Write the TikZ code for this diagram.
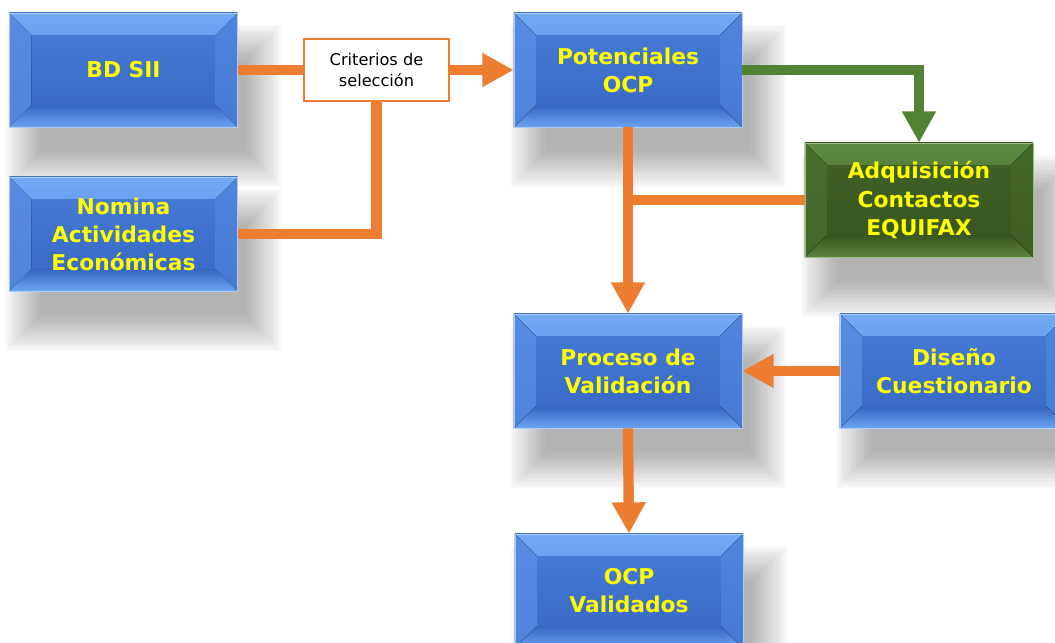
\documentclass[tikz,border=0pt]{standalone}
\usepackage{fontspec}
\setmainfont{DejaVu Sans}
\usepackage{xcolor}
\usepackage{tikz}
\usetikzlibrary{arrows.meta}
\definecolor{ylw}{HTML}{FFFF00}
\definecolor{orng}{HTML}{ED7D31}
\definecolor{grn}{HTML}{548235}
\definecolor{bluelt}{HTML}{72AAF6}
\definecolor{bluemd}{HTML}{4A7ED8}
\definecolor{bluedk}{HTML}{3466C2}
\definecolor{greenlt}{HTML}{5E8A40}
\definecolor{greenmd}{HTML}{3F6126}
\definecolor{greendk}{HTML}{38561F}
\pgfdeclarelayer{bg}
\pgfsetlayers{bg,main}
\tikzset{
  bevel/.style n args={3}{
    top color=#2, bottom color=#3, draw=#1!60!white, line width=0.6pt,
    path picture={
      \fill[top color=#1, bottom color=#2]
        (path picture bounding box.north west) -- (path picture bounding box.north east)
        -- ([shift={(-0.55cm,-0.55cm)}]path picture bounding box.north east)
        -- ([shift={(0.55cm,-0.55cm)}]path picture bounding box.north west) -- cycle;
      \fill[top color=#3, bottom color=#1!85!#2]
        (path picture bounding box.south west) -- (path picture bounding box.south east)
        -- ([shift={(-0.55cm,0.55cm)}]path picture bounding box.south east)
        -- ([shift={(0.55cm,0.55cm)}]path picture bounding box.south west) -- cycle;
      \fill[top color=#2!70!#1, bottom color=#2!85!#1]
        (path picture bounding box.north west) -- ([shift={(0.55cm,-0.55cm)}]path picture bounding box.north west)
        -- ([shift={(0.55cm,0.55cm)}]path picture bounding box.south west) -- (path picture bounding box.south west) -- cycle;
      \fill[top color=#2!85!#1, bottom color=#2!80!#3]
        (path picture bounding box.north east) -- ([shift={(-0.55cm,-0.55cm)}]path picture bounding box.north east)
        -- ([shift={(-0.55cm,0.55cm)}]path picture bounding box.south east) -- (path picture bounding box.south east) -- cycle;
    }
  },
  box/.style={minimum width=5.7cm, minimum height=2.85cm, inner sep=0pt, align=center,
    text=ylw, font=\bfseries\fontsize{15.5}{20}\selectfont},
  bluebox/.style={box, bevel={bluelt}{bluemd}{bluedk}},
  greenbox/.style={box, bevel={greenlt}{greenmd}{greendk}},
  crit/.style={draw=orng, line width=2pt, fill=white, minimum width=3.625cm,
    minimum height=1.55cm, align=center, font=\fontsize{11.5}{14.5}\selectfont},
  conn/.style={draw=orng, line width=0.26cm},
  gconn/.style={draw=grn, line width=0.27cm},
  arr/.style={-{Triangle[width=0.8cm,length=0.78cm]}}
}
\begin{document}
\begin{tikzpicture}[x=0.025cm,y=-0.025cm]
\useasboundingbox (0,0) rectangle (1055,643);

% boxes
\node[bluebox] (bdsii) at (123.5,70) {BD SII};
\node[bluebox] (nomina) at (123.5,234) {Nomina\\Actividades\\Económicas};
\node[crit] (selec) at (376.5,70) {Criterios de\\selección};
\node[bluebox] (pot) at (628,70) {Potenciales\\OCP};
\node[greenbox] (adq) at (919,200) {Adquisición\\Contactos\\EQUIFAX};
\node[bluebox] (proc) at (628,371) {Proceso de\\Validación};
\node[bluebox] (dis) at (954,371) {Diseño\\Cuestionario};
\node[bluebox] (val) at (629,591) {OCP\\Validados};
\coordinate (jn) at (adq.west -| pot.south);

% shadows
\begin{pgfonlayer}{bg}
\foreach \n in {bdsii,nomina,pot,adq,proc,dis,val}
  \foreach \k in {0,...,14}
    \fill[black,opacity=0.024]
      ([xshift={(-0.1+0.065*\k)*1cm}, yshift={(-0.3-0.065*\k)*1cm}]\n.north west) rectangle
      ([xshift={(1.1-0.065*\k)*1cm}, yshift={(-1.5+0.065*\k)*1cm}]\n.south east);
\end{pgfonlayer}

% connectors
\draw[conn] (bdsii.east) -- (selec.west);
\draw[conn] (nomina.east) -| (selec.south);
\draw[conn,arr] (selec.east) -- (pot.west);
\draw[gconn,arr] (pot.east) -| (adq.north);
\draw[conn,arr] (pot.south) -- (proc.north);
\draw[conn] (adq.west) -- (jn);
\draw[conn,arr] (dis.west) -- (proc.east);
\draw[conn,arr] (proc.south) -- (val.north);
\end{tikzpicture}
\end{document}
